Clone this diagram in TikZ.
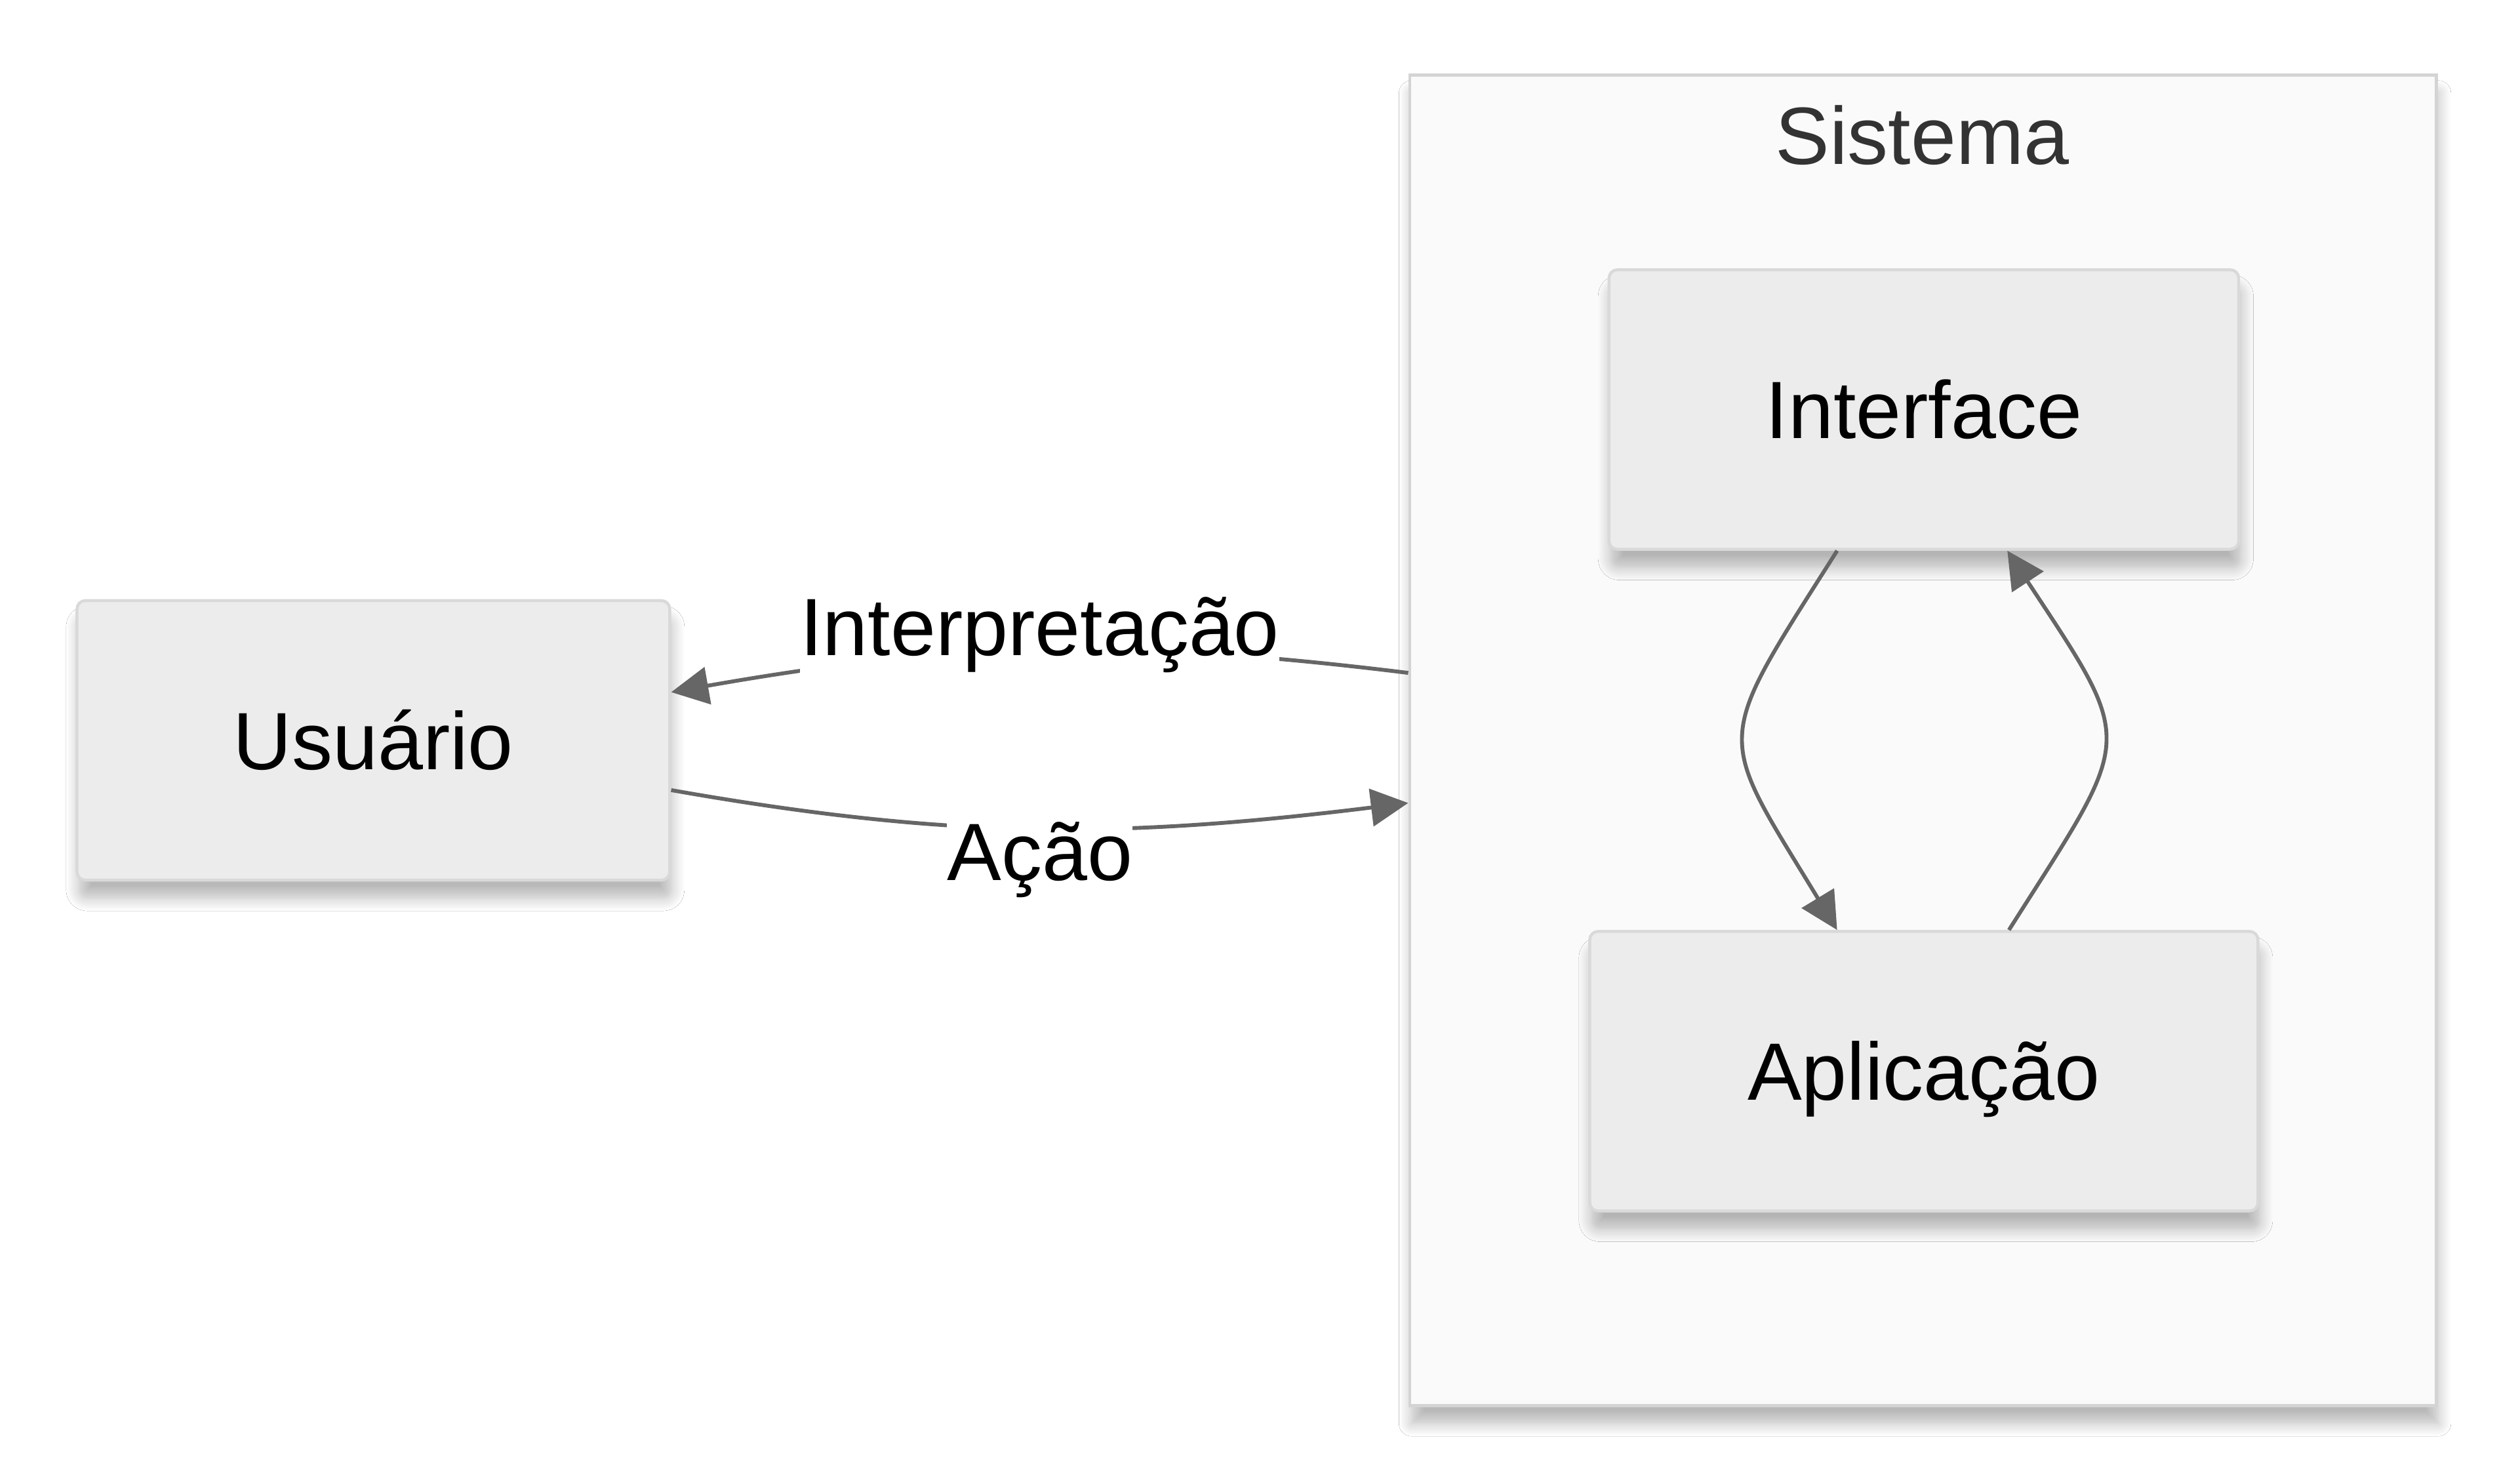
\documentclass[tikz,border=0pt]{standalone}
\usepackage{fontspec}
\setmainfont{Liberation Sans}
\usetikzlibrary{arrows.meta,calc,shadows.blur}
\definecolor{nodefill}{HTML}{ECECEC}
\definecolor{nodeline}{HTML}{D9D9D9}
\definecolor{clfill}{HTML}{FAFAFA}
\definecolor{clline}{HTML}{D4D4D4}
\definecolor{edgec}{HTML}{666666}
\definecolor{titlec}{HTML}{333333}
\begin{document}
\begin{tikzpicture}[x=0.025cm,y=-0.025cm,
  bigfont/.style={font=\fontsize{36}{43}\selectfont},
  softshadow/.style={blur shadow={shadow xshift=0.03cm, shadow yshift=-0.28cm, shadow blur steps=10, shadow blur radius=0.2cm, shadow opacity=28}},
  box/.style={bigfont, draw=nodeline, line width=0.045cm, fill=nodefill, rounded corners=0.13cm, inner sep=0pt, text height=25.8pt, text depth=0pt, minimum height=4.35cm, softshadow},
  cluster/.style={draw=clline, line width=0.05cm, fill=clfill, inner sep=0pt, minimum width=15.975cm, minimum height=20.7cm, softshadow},
  title/.style={bigfont, text=titlec, inner sep=0pt, text height=25.8pt, text depth=0pt},
  elabel/.style={bigfont, fill=white, inner xsep=0pt, inner ysep=1pt, text height=29pt, text depth=8.5pt, anchor=base},
  edge/.style={draw=edgec, line width=0.06cm, -{Triangle[length=0.58cm,width=0.58cm]}}
]
\useasboundingbox (0,0) rectangle (1568,924);
\fill[white] (0,0) rectangle (1568,924);

% cluster
\node[cluster] (sys) at (1197.5,461) {};
\node[title] (systitle) at (1197,84) {Sistema};

% nodes
\node[box, minimum width=9.225cm] (usr) at (232.5,461) {Usuário};
\node[box, minimum width=9.8cm] (ifc) at (1198,255) {Interface};
\node[box, minimum width=10.4cm] (app) at (1198,667) {Aplicação};

% attachment points
\coordinate (sysA) at (sys.west |- 0,419);
\coordinate (sysB) at (sys.west |- 0,500);
\coordinate (usrA) at ($(usr.east)+(0,-30)$);
\coordinate (usrB) at ($(usr.east)+(0,31)$);
\coordinate (ifcL) at ($(ifc.south)+(-54,0)$);
\coordinate (ifcR) at ($(ifc.south)+(52,0)$);
\coordinate (appL) at ($(app.north)+(-54,0)$);
\coordinate (appR) at ($(app.north)+(53,0)$);

% edges
\draw[edge] (sysA) .. controls (699,397) and (594,400) .. (usrA);
\draw[edge] (usrB) .. controls (594,523) and (699,522) .. (sysB);
\draw[edge] (ifcL) .. controls (1066,466) and (1068,454) .. (appL);
\draw[edge] (appR) .. controls (1329,456) and (1331,466) .. (ifcR);

% edge labels
\node[elabel] (lblI) at (647.5,408) {Interpretação};
\node[elabel] (lblA) at (647.5,548) {Ação};
\end{tikzpicture}
\end{document}
